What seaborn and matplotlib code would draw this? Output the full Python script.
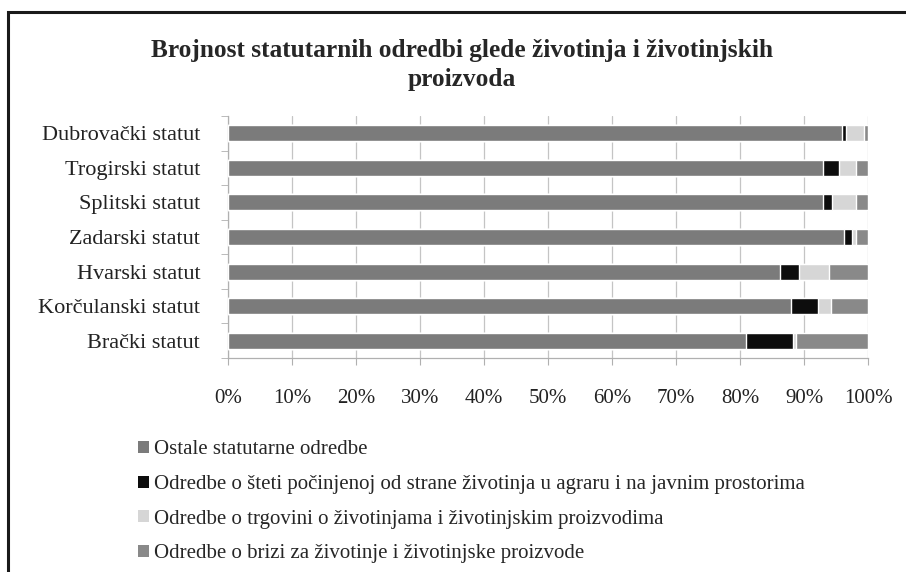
import numpy as np
import pandas as pd
import matplotlib
matplotlib.use('Agg')
import matplotlib.pyplot as plt
from matplotlib.patches import Patch, Rectangle
import seaborn as sns

# --- podaci (očitano sa slike, u %) ---
statuti = ['Dubrovački statut', 'Trogirski statut', 'Splitski statut', 'Zadarski statut',
           'Hvarski statut', 'Korčulanski statut', 'Brački statut']
ostale = [96.0, 93.0, 93.0, 96.2, 86.2, 88.0, 81.0]
steta = [0.5, 2.5, 1.3, 1.3, 3.0, 4.2, 7.3]
trgovina = [2.9, 2.7, 3.9, 0.7, 4.7, 2.0, 0.4]
briga = [0.6, 1.8, 1.8, 1.8, 6.1, 5.8, 11.3]

serije = ['Ostale statutarne odredbe',
          'Odredbe o šteti počinjenoj od strane životinja u agraru i na javnim prostorima',
          'Odredbe o trgovini o životinjama i životinjskim proizvodima',
          'Odredbe o brizi za životinje i životinjske proizvode']
boje = ['#7b7b7b', '#0d0d0d', '#d6d6d6', '#898989']

df = pd.DataFrame({'Statut': statuti, serije[0]: ostale, serije[1]: steta,
                   serije[2]: trgovina, serije[3]: briga})
kum = df[serije].cumsum(axis=1)

sns.set_style('white')
plt.rcParams['font.family'] = ['Liberation Serif', 'DejaVu Serif']

fig = plt.figure(figsize=(9.06, 5.72), dpi=100)
ax = fig.add_axes([228 / 906, 1 - 358 / 572, 640 / 906, 242 / 572])

# slaganje: crtamo kumulativne zbrojeve od najvećeg prema najmanjem
for s, c in reversed(list(zip(serije, boje))):
    sns.barplot(x=kum[s], y=df['Statut'], color=c, orient='h', width=0.46,
                saturation=1, ax=ax, zorder=3)

ax.set_xlim(0, 100)
ax.set_ylim(6.5, -0.5)
ax.set_xticks(np.arange(0, 101, 10))
ax.set_xticklabels([f'{v}%' for v in range(0, 101, 10)], fontsize=15, color='#222222')
ax.set_yticklabels(statuti, fontsize=16, color='#222222')
ax.set_xlabel('')
ax.set_ylabel('')
ax.grid(axis='x', color='#c4c4c4', lw=0.9, zorder=0)
ax.set_axisbelow(True)

for sp in ['top', 'right']:
    ax.spines[sp].set_visible(False)
for sp in ['left', 'bottom']:
    ax.spines[sp].set_color('#b0b0b0')
    ax.spines[sp].set_linewidth(0.9)

ax.tick_params(axis='x', length=5, color='#b0b0b0', pad=17, bottom=True)
ax.tick_params(axis='y', length=0, pad=20)
ax.set_yticks(np.arange(-0.5, 7, 1), minor=True)
ax.tick_params(axis='y', which='minor', length=5, color='#b0b0b0', left=True)

fig.text(462 / 906, 1 - 65 / 572,
         'Brojnost statutarnih odredbi glede životinja i životinjskih\nproizvoda',
         ha='center', va='center', fontsize=18.3, fontweight='bold', linespacing=1.32)

ruke = [Patch(facecolor=c, edgecolor='none') for c in boje]
fig.legend(ruke, serije, loc='upper left', bbox_to_anchor=(130 / 906, 1 - 432 / 572),
           frameon=False, fontsize=15, handlelength=0.5, handleheight=0.5,
           handletextpad=0.25, labelspacing=0.75, borderaxespad=0)

# okvir slike
fig.patches.append(Rectangle((8 / 906, -0.1), 1.2, 1.1 - 12 / 572,
                             transform=fig.transFigure, fill=False,
                             edgecolor='#1a1a1a', lw=2.2))

fig.savefig('out.png', dpi=100)
